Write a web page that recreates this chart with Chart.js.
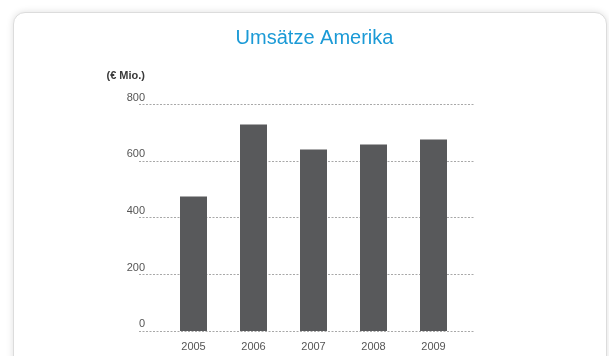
<!DOCTYPE html>
<html>
<head>
<meta charset="utf-8">
<script src="https://cdn.jsdelivr.net/npm/chart.js@4/dist/chart.umd.min.js"></script>
<style>
  html, body { margin: 0; padding: 0; background: #ffffff; width: 609px; height: 356px; overflow: hidden; }
  #card { position: absolute; left: 13px; top: 12px; width: 592px; height: 360px; background: #fff;
          border: 1px solid #dcdcdc; border-radius: 12px; box-shadow: 0 0 7px rgba(0,0,0,0.13); }
  #wrap { position: absolute; left: 0; top: 0; width: 609px; height: 356px; }
</style>
</head>
<body>
<div id="card"></div>
<div id="wrap"><canvas id="c" width="609" height="356"></canvas></div>
<script>
const categories = ['2005', '2006', '2007', '2008', '2009'];
const revenue = [474, 728, 640, 657, 675];
const yTicks = [0, 200, 400, 600, 800];
const titleText = 'Umsätze Amerika';
const unitText = '(€ Mio.)';

const gridPlugin = {
  id: 'dashGrid',
  beforeDatasetsDraw(chart) {
    const ctx = chart.ctx, y = chart.scales.y, a = chart.chartArea;
    ctx.save();
    ctx.strokeStyle = '#a8a8a8';
    ctx.lineWidth = 1;
    ctx.setLineDash([2, 1.5]);
    yTicks.forEach(v => {
      const py = Math.round(y.getPixelForValue(v)) + 0.5;
      ctx.beginPath();
      ctx.moveTo(a.left - 24.5, py);
      ctx.lineTo(a.right + 10.5, py);
      ctx.stroke();
    });
    ctx.restore();
  },
  afterDraw(chart) {
    const ctx = chart.ctx, a = chart.chartArea;
    ctx.save();
    ctx.fillStyle = '#3a3a3a';
    ctx.font = 'bold 11px "Liberation Sans", Arial, sans-serif';
    ctx.textBaseline = 'middle';
    ctx.textAlign = 'right';
    ctx.fillText(unitText, a.left - 18.5, 76);
    ctx.restore();
  }
};

new Chart(document.getElementById('c'), {
  type: 'bar',
  data: {
    labels: categories,
    datasets: [{
      data: revenue,
      backgroundColor: '#58595b',
      borderWidth: 0,
      barPercentage: 0.45,
      categoryPercentage: 1
    }]
  },
  options: {
    responsive: false,
    animation: false,
    devicePixelRatio: 1,
    layout: { padding: { left: 20, right: 0, top: 0, bottom: 0 } },
    plugins: {
      legend: { display: false },
      tooltip: { enabled: false },
      title: {
        display: true,
        text: titleText,
        color: '#1b9ad6',
        font: { family: '"Liberation Sans", Arial, sans-serif', size: 20, weight: 'normal' },
        padding: { top: 26, bottom: 54 }
      }
    },
    scales: {
      x: {
        offset: true,
        afterFit(scale) { scale.height = 25; },
        grid: { display: false, drawTicks: false },
        border: { display: false },
        ticks: { color: '#555', font: { family: '"Liberation Sans", Arial, sans-serif', size: 11 }, padding: 9.5, maxRotation: 0 }
      },
      y: {
        min: 0, max: 800,
        afterBuildTicks(scale) { scale.ticks = yTicks.map(v => ({ value: v })); },
        afterFit(scale) { scale.width = 143.5; },
        grid: { display: false, drawTicks: false },
        border: { display: false },
        ticks: { color: '#555', font: { family: '"Liberation Sans", Arial, sans-serif', size: 11 }, padding: 18.5, labelOffset: -6.5 }
      },
      y2: {
        position: 'right',
        min: 0, max: 800,
        afterFit(scale) { scale.width = 145.5; },
        grid: { display: false, drawTicks: false },
        border: { display: false },
        ticks: { display: false }
      }
    }
  },
  plugins: [gridPlugin]
});
</script>
</body>
</html>
